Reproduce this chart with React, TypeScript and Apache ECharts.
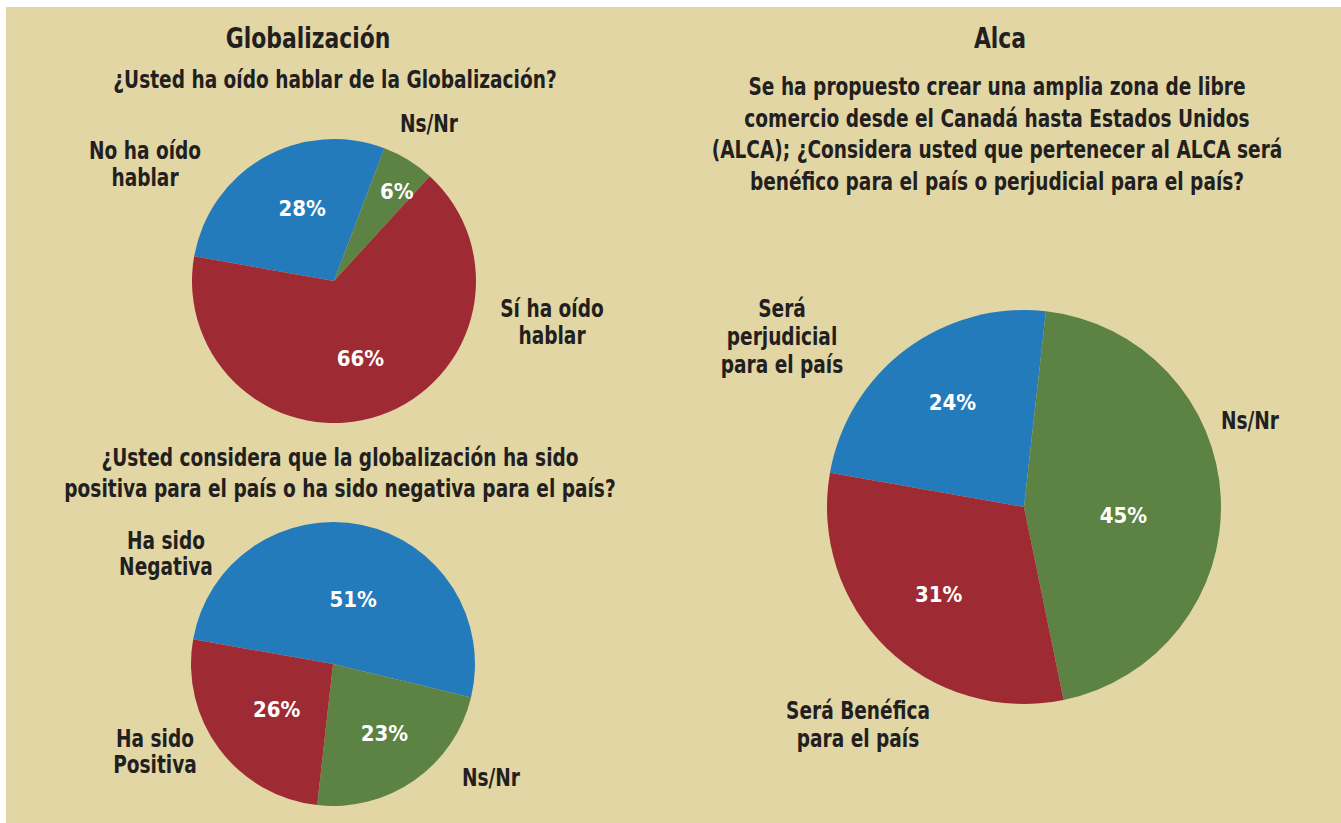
import React, { useEffect, useRef } from "react";
import * as echarts from "echarts";

// ---- data ----
const q1Names = ["No ha oído\nhablar", "Ns/Nr", "Sí ha oído\nhablar"];
const q1Values = [28, 6, 66];

const q2Names = ["Ha sido\nNegativa", "Ns/Nr", "Ha sido\nPositiva"];
const q2Values = [51, 23, 26];

const q3Names = ["Será\nperjudicial\npara el país", "Ns/Nr", "Será Benéfica\npara el país"];
const q3Values = [24, 45, 31];

const sliceColors = ["#247bbb", "#5c8244", "#9e2b34"];

const title1 = "Globalización";
const question1 = "¿Usted ha oído hablar de la Globalización?";
const question2 = "¿Usted considera que la globalización ha sido\npositiva para el país o ha sido negativa para el país?";
const title2 = "Alca";
const question3 =
  "Se ha propuesto crear una amplia zona de libre\ncomercio desde el Canadá hasta Estados Unidos\n(ALCA); ¿Considera usted que pertenecer al ALCA será\nbenéfico para el país o perjudicial para el país?";

const FONT = "'DejaVu Sans Condensed', 'DejaVu Sans', sans-serif";
const INK = "#231f20";
const OX = 6;
const OY = 7;
const SQUEEZE = 0.86;

type PieSpec = {
  names: string[];
  values: number[];
  cx: number;
  cy: number;
  r: number;
  pctRadius: number[]; // label distance as fraction of radius
  pctNudge: [number, number][];
  namePos: [number, number][];
  lineHeight: number;
};

const START = 170;

const pies: PieSpec[] = [
  {
    names: q1Names,
    values: q1Values,
    cx: 334,
    cy: 281,
    r: 142,
    pctRadius: [0.56, 0.77, 0.58],
    pctNudge: [
      [9, -1],
      [4, 6],
      [-1, -3],
    ],
    namePos: [
      [145, 164],
      [429, 123],
      [552, 322],
    ],
    lineHeight: 27,
  },
  {
    names: q2Names,
    values: q2Values,
    cx: 333,
    cy: 664,
    r: 142,
    pctRadius: [0.47, 0.61, 0.51],
    pctNudge: [
      [6, 4],
      [0, -4],
      [4, 0],
    ],
    namePos: [
      [166, 553],
      [491, 777],
      [155, 751],
    ],
    lineHeight: 26,
  },
  {
    names: q3Names,
    values: q3Values,
    cx: 1024,
    cy: 507,
    r: 197,
    pctRadius: [0.65, 0.5, 0.62],
    pctNudge: [
      [7, 0],
      [-2, 13],
      [2, -2],
    ],
    namePos: [
      [782, 336],
      [1250, 420],
      [858, 724],
    ],
    lineHeight: 28,
  },
];

function labelOffset(spec: PieSpec, idx: number) {
  const total = spec.values.reduce((a, b) => a + b, 0);
  let cum = 0;
  for (let i = 0; i < idx; i++) cum += spec.values[i];
  const startCw = 90 - START;
  const mid = ((startCw + ((cum + spec.values[idx] / 2) / total) * 360) * Math.PI) / 180;
  const dirx = Math.sin(mid);
  const diry = -Math.cos(mid);
  const k = (spec.pctRadius[idx] - 0.5) * spec.r;
  return { dx: k * dirx + spec.pctNudge[idx][0], dy: k * diry + spec.pctNudge[idx][1] };
}

function textEl(text: string, x: number, y: number, size: number, lineHeight: number, sx: number) {
  return {
    type: "text",
    x: x - OX,
    y: y - OY,
    scaleX: sx,
    style: {
      text,
      fill: INK,
      fontSize: size,
      fontWeight: "bold",
      fontFamily: FONT,
      align: "center",
      verticalAlign: "middle",
      lineHeight,
    },
    silent: true,
  };
}

export default function App() {
  const ref = useRef<HTMLDivElement>(null);

  useEffect(() => {
    if (!ref.current) return;
    const chart = echarts.init(ref.current, undefined, { renderer: "svg" });

    const series = pies.map((spec, si) => ({
      type: "pie",
      name: "pie" + si,
      center: [spec.cx - OX, spec.cy - OY],
      radius: spec.r,
      startAngle: START,
      clockwise: true,
      avoidLabelOverlap: false,
      silent: true,
      itemStyle: { borderWidth: 0 },
      label: {
        show: true,
        position: "inside",
        formatter: "{c}%",
        color: "#ffffff",
        fontSize: 22,
        fontWeight: "bold",
        fontFamily: FONT,
      },
      labelLine: { show: false },
      labelLayout: (params: any) => labelOffset(spec, params.dataIndex),
      data: spec.values.map((v, i) => ({
        name: spec.names[i],
        value: v,
        itemStyle: { color: sliceColors[i] },
      })),
    }));

    const nameTexts: any[] = [];
    pies.forEach((spec) => {
      spec.names.forEach((n, i) => {
        nameTexts.push(textEl(n, spec.namePos[i][0], spec.namePos[i][1], 24, spec.lineHeight, SQUEEZE));
      });
    });

    chart.setOption({
      animation: false,
      backgroundColor: "#e1d6a4",
      graphic: [
        textEl(title1, 308, 38, 29, 32, 0.84),
        textEl(question1, 335, 79, 24, 28, SQUEEZE),
        textEl(question2, 340, 473, 24, 31, SQUEEZE),
        textEl(title2, 1000, 38, 29, 32, 0.84),
        textEl(question3, 997, 134, 24, 31.7, SQUEEZE),
        ...nameTexts,
      ],
      series,
    });

    return () => chart.dispose();
  }, []);

  return (
    <div
      style={{
        position: "absolute",
        left: 0,
        top: 0,
        width: 1341,
        height: 823,
        background: "#ffffff",
      }}
    >
      <div
        ref={ref}
        style={{ position: "absolute", left: OX, top: OY, width: 1341 - OX, height: 823 - OY }}
      />
    </div>
  );
}
